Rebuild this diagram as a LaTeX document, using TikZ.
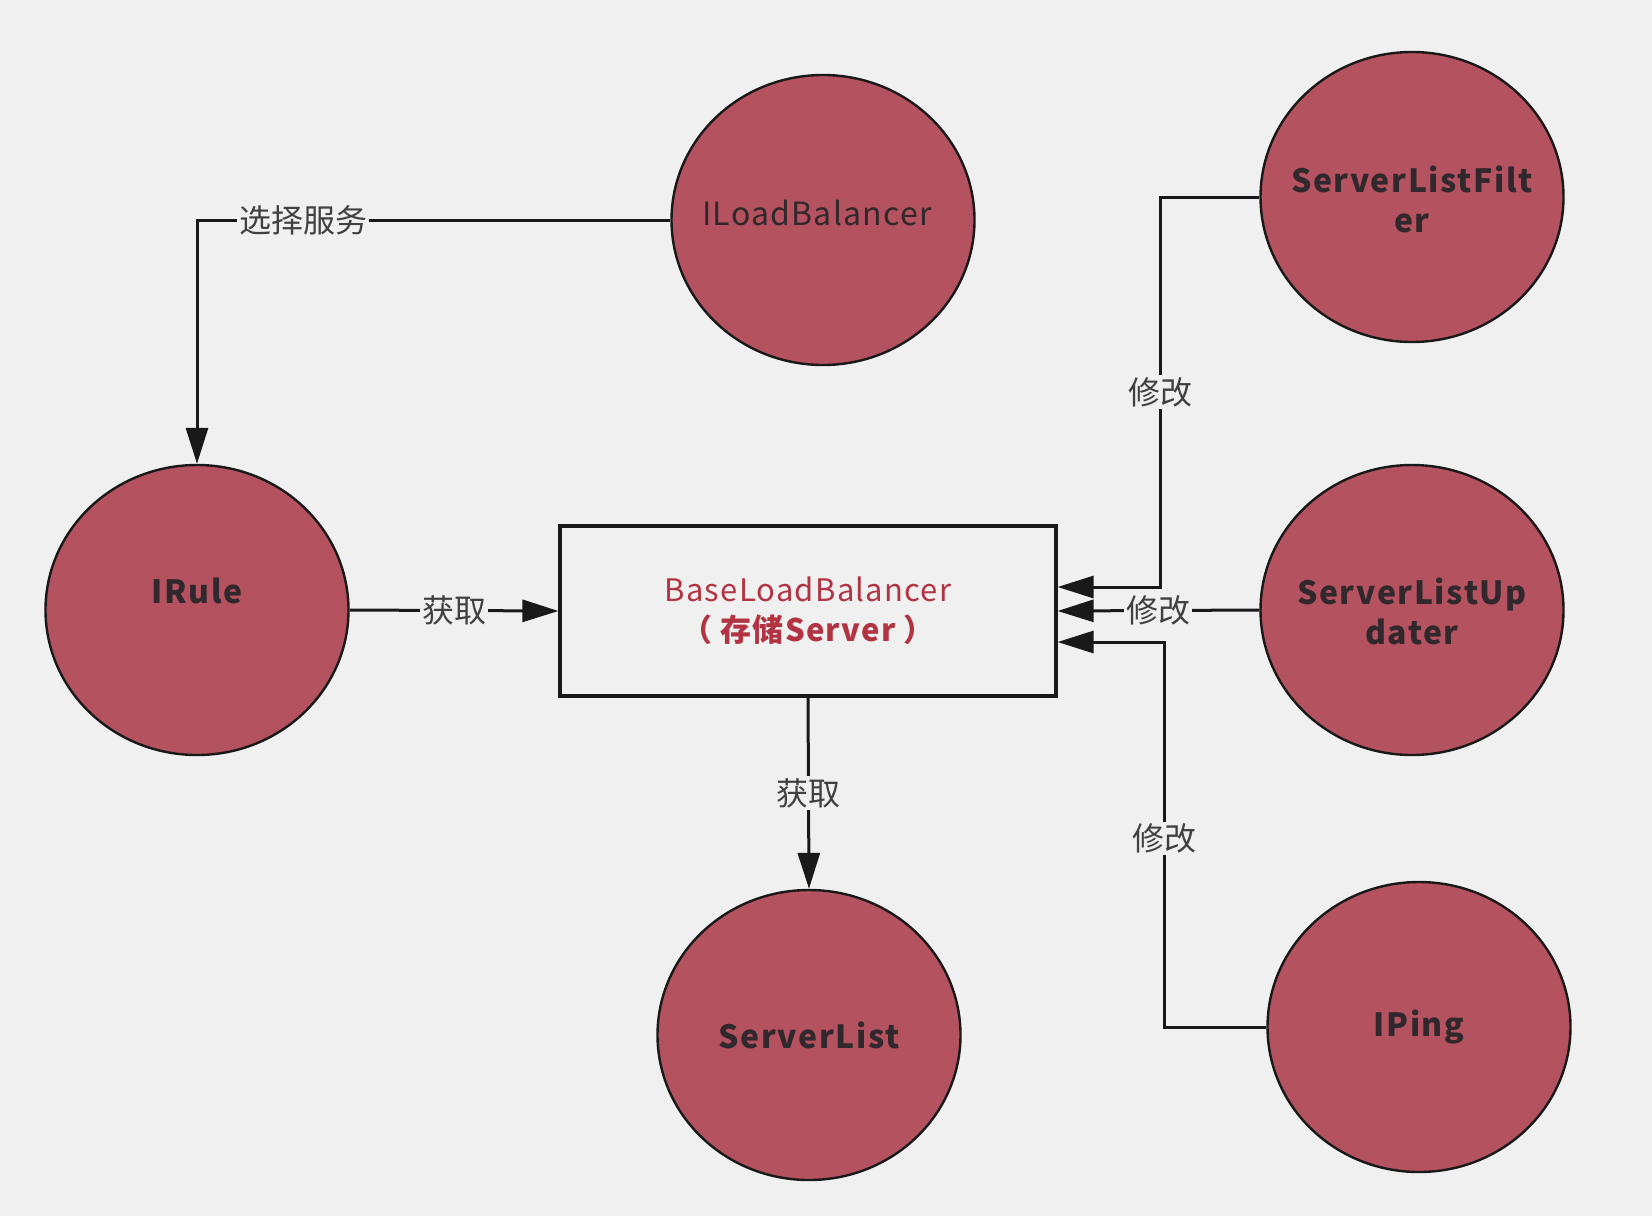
\documentclass[tikz,border=0pt]{standalone}
\usepackage{fontspec}
\setmainfont{Noto Sans CJK SC}
\newfontfamily\spaced[LetterSpace=5]{Noto Sans CJK SC}
\newfontfamily\spacedb[LetterSpace=4]{Noto Sans CJK SC}
\usetikzlibrary{shapes.geometric,arrows.meta}
\definecolor{bg}{RGB}{240,240,240}
\definecolor{cfill}{RGB}{181,82,95}
\definecolor{ctxt}{RGB}{48,40,44}
\definecolor{btxt}{RGB}{178,52,66}
\definecolor{lnc}{RGB}{25,25,25}
\begin{document}
\begin{tikzpicture}[x=0.5pt,y=-0.5pt,
  circ/.style={ellipse, draw=lnc, line width=1.2pt, fill=cfill, minimum width=151.5pt, minimum height=145pt, inner sep=0pt},
  ctext/.style={font=\spaced\bfseries\fontsize{16}{20}\selectfont, text=ctxt, align=center, inner sep=0pt},
  conn/.style={draw=lnc, line width=1.5pt},
  arr/.style={conn, -{Triangle[length=18pt,width=11pt]}},
  lbl/.style={fill=bg, inner sep=1pt, font=\fontsize{16}{18}\selectfont, text=black!75}]
\fill[bg] (0,0) rectangle (1652,1216);
% circles
\node[circ] (ilb) at (823,220) {};
\node[font=\spacedb\fontsize{16}{20}\selectfont, text=ctxt, inner sep=0pt] (ilbT) at (817,213) {ILoadBalancer};
\node[circ] (slf) at (1412,197) {};
\node[ctext] (slfT) at (1412,199) {ServerListFilt\\er};
\node[circ] (irule) at (197,610) {};
\node[ctext] (iruleT) at (197,591) {IRule};
\node[circ] (slu) at (1412,610) {};
\node[ctext] (sluT) at (1412,611) {ServerListUp\\dater};
\node[circ] (sl) at (809,1035) {};
\node[ctext] (slT) at (809,1035) {ServerList};
\node[circ] (ping) at (1419,1027) {};
\node[ctext] (pingT) at (1419,1027) {IPing};
% box
\node[draw=lnc, line width=1.6pt, fill=bg, minimum width=248pt, minimum height=85pt, inner sep=0pt] (box) at (808,611) {};
\node[align=center, text=btxt, font=\spacedb\fontsize{15.5}{20}\selectfont, inner sep=0pt] (boxT) at (808,611) {BaseLoadBalancer\\{\bfseries（ 存储Server ）}};
% coordinates
\coordinate (a1) at (1160,587);
\coordinate (a3) at (1164,642);
% connectors
\draw[arr] (ilb.west) -| node[lbl, pos=0.388]{选择服务} (irule.north);
\draw[arr] (irule.east) -- node[lbl]{获取} (box.west);
\draw[arr] (box.south) -- node[lbl]{获取} (sl.north);
\draw[arr] (slf.west) -| node[lbl, pos=0.75]{修改} (a1) -- (box.east |- a1);
\draw[arr] (slu.west) -- node[lbl]{修改} (box.east);
\draw[arr] (ping.west) -| node[lbl, pos=0.745]{修改} (a3) -- (box.east |- a3);
\end{tikzpicture}
\end{document}
